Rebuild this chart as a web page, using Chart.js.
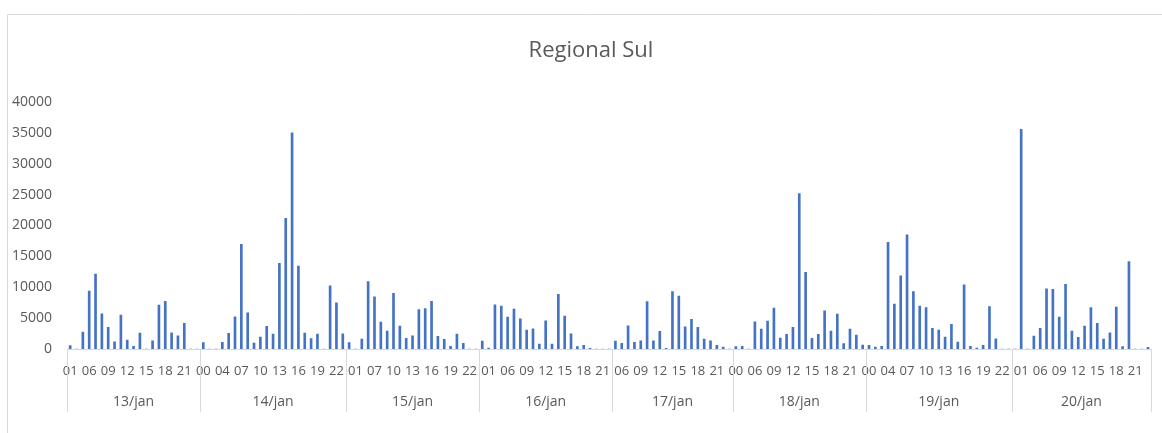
<!DOCTYPE html>
<html>
<head>
<meta charset="utf-8">
<script src="https://cdn.jsdelivr.net/npm/chart.js@4/dist/chart.umd.min.js"></script>
<style>
html,body{margin:0;padding:0;background:#fff;}
#wrap{width:1162px;height:433px;position:relative;}
</style>
</head>
<body>
<div id="wrap"><canvas id="graph" width="1162" height="433"></canvas></div>
<script>
/* DATA */

const days=["13/jan","14/jan","15/jan","16/jan","17/jan","18/jan","19/jan","20/jan"];

const hours13=["01","04","05","06","07","08","09","10","11","12","13","14","15","16","17","18","19","20","21","22","23"];
const hours14=["00","02","03","04","05","06","07","08","09","10","11","12","13","14","15","16","17","18","19","20","21","22","23"];
const hours15=["00","01","05","06","07","08","09","10","11","12","13","14","15","16","17","18","19","20","21","22","23"];
const hours16=["00","01","04","05","06","07","08","09","10","11","12","13","14","15","16","17","18","19","20","21","22"];
const hours17=["05","06","07","08","09","10","11","12","13","14","15","16","17","18","19","20","21","22","23"];
const hours18=["00","04","05","06","07","08","09","10","11","12","13","14","15","16","17","18","19","20","21","22","23"];
const hours19=["00","01","02","04","05","06","07","08","09","10","11","12","13","14","15","16","17","18","19","20","21","22","23"];
const hours20=["00","01","04","05","06","07","08","09","10","11","12","13","14","15","16","17","18","19","20","21","22","23"];

const values13=[540,0,2740,9360,12150,5700,3490,1180,5480,1450,430,2580,0,1340,7100,7740,2630,2150,4140,0,0];
const values14=[1020,0,0,1075,2530,5215,16935,5860,970,1935,3655,2420,13870,21180,35000,13440,2580,1670,2420,0,10215,7470,2470];
const values15=[1020,0,1610,10915,8440,4355,2900,9030,3710,1720,2150,6400,6560,7740,2040,1560,430,2420,915,0,0];
const values16=[1290,160,7150,6935,5160,6450,4890,3065,3280,800,4570,800,8870,5320,2470,375,590,110,0,0,0];
const values17=[1290,915,3760,1075,1340,7690,1340,2850,110,9300,8550,3600,4785,3495,1610,1340,590,320,0];
const values18=[375,430,0,4410,3225,4515,6610,1775,2365,3495,25160,12420,1720,2365,6180,2900,5645,860,3225,2260,645];
const values19=[590,320,430,17260,7260,11830,18495,9300,6935,6720,3335,3065,1935,3980,1130,10375,430,160,590,6880,1665,0,0];
const values20=[0,35590,0,2100,3335,9730,9680,5160,10480,2900,1880,3710,6720,4140,1610,2630,6775,375,14140,0,0,270];

const yTicks=[0,5000,10000,15000,20000,25000,30000,35000,40000];

const titleText="Regional Sul";

/* BUILD */

const hourGroups=[hours13,hours14,hours15,hours16,hours17,hours18,hours19,hours20];
const valueGroups=[values13,values14,values15,values16,values17,values18,values19,values20];

let labels=[];
let data=[];
let groups=[];

hourGroups.forEach((h,i)=>{
groups.push({name:days[i],start:labels.length,count:h.length});
labels=labels.concat(h);
data=data.concat(valueGroups[i]);
});

const gray="#595959";
const lineGray="#D9D9D9";
const font="'Open Sans', sans-serif";

/* FRAME, TITLE, DAY GROUPS */

const groupAxis={
id:"groupAxis",
beforeDraw(chart){
const c=chart.ctx;
c.save();
c.strokeStyle=lineGray;
c.lineWidth=1;
c.beginPath();
c.moveTo(7.5,433);
c.lineTo(7.5,14.5);
c.lineTo(1162,14.5);
c.stroke();
c.fillStyle=gray;
c.font="22px "+font;
c.textAlign="center";
c.textBaseline="middle";
c.fillText(titleText,591,51);
c.restore();
},
afterDraw(chart){
const c=chart.ctx;
const x=chart.scales.x;
const bottom=chart.chartArea.bottom;
const w=x.getPixelForValue(1)-x.getPixelForValue(0);
c.save();
c.strokeStyle=lineGray;
c.lineWidth=1;
c.fillStyle=gray;
c.font="14px "+font;
c.textAlign="center";
c.textBaseline="middle";
groups.forEach(g=>{
let left=x.getPixelForValue(g.start)-w/2;
let right=x.getPixelForValue(g.start+g.count-1)+w/2;
[left,right].forEach(px=>{
let p=Math.round(px)+0.5;
c.beginPath();
c.moveTo(p,bottom);
c.lineTo(p,bottom+63);
c.stroke();
});
c.fillText(g.name,(left+right)/2,bottom+53);
});
c.restore();
}
};

/* CHART */

const ctx=document.getElementById("graph");

new Chart(ctx,{
type:"bar",
data:{
labels:labels,
datasets:[{
label:titleText,
data:data,
backgroundColor:"#4472C4",
barThickness:2,
categoryPercentage:1
}]
},
options:{
responsive:false,
animation:false,
layout:{padding:{left:8,right:10,top:102,bottom:0}},
plugins:{
legend:{display:false},
tooltip:{enabled:false},
title:{display:false}
},
scales:{
x:{
grid:{display:false,drawTicks:false},
border:{display:true,color:lineGray},
ticks:{
autoSkip:false,
maxRotation:0,
minRotation:0,
padding:14,
color:gray,
font:{family:font,size:13},
callback:function(v,i){ return i%3===0 ? labels[i] : ""; }
},
afterFit(scale){ scale.height=84; }
},
y:{
min:0,
max:40000,
grid:{display:false,drawTicks:false},
border:{display:false},
afterBuildTicks(scale){ scale.ticks=yTicks.map(v=>({value:v})); },
ticks:{
padding:15,
color:gray,
font:{family:font,size:14},
callback:function(v){ return String(v); }
},
afterFit(scale){ scale.width=59; }
}
}
},
plugins:[groupAxis]
});
</script>
</body>
</html>
